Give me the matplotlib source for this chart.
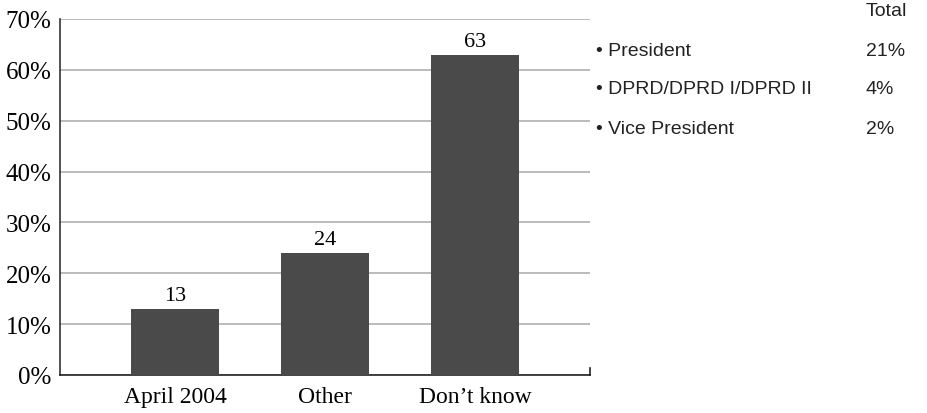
import matplotlib
matplotlib.use("Agg")
import matplotlib.pyplot as plt

categories = ["April 2004", "Other", "Don\u2019t know"]
values = [13, 24, 63]
yticks = [0, 10, 20, 30, 40, 50, 60, 70]
ytick_labels = ["0%", "10%", "20%", "30%", "40%", "50%", "60%", "70%"]
side_header = "Total"
side_items = ["President", "DPRD/DPRD I/DPRD II", "Vice President"]
side_values = ["21%", "4%", "2%"]

fig = plt.figure(figsize=(9.27, 4.14), dpi=100)
W, H = 927, 414
ax = fig.add_axes([60 / W, 1 - 376 / H, (590 - 60) / W, (376 - 20) / H])

x = list(range(len(categories)))
bars = ax.bar(x, values, width=0.59, color="#4a4a4a", zorder=3)
ax.set_xlim(-0.767, 2.767)
ax.set_ylim(0, 70)
ax.set_yticks(yticks)
ax.set_yticklabels(ytick_labels, fontfamily="Liberation Serif", fontsize=18)
ax.set_xticks(x)
ax.set_xticklabels(categories, fontfamily="Liberation Serif", fontsize=17)
ax.tick_params(axis="both", length=0, pad=6, colors="black")
ax.tick_params(axis="x", pad=8)
ax.yaxis.grid(True, color="#a8a8a8", linewidth=1.1, zorder=0)
for s in ["top", "right"]:
    ax.spines[s].set_visible(False)
ax.spines["left"].set_color("#333333")
ax.spines["bottom"].set_color("#222222")
ax.spines["left"].set_linewidth(1.2)
ax.spines["bottom"].set_linewidth(1.2)
ax.spines["left"].set_bounds(0, 70)
ax.plot([1, 1], [0, 1.4], transform=ax.get_yaxis_transform(), color="#222222",
        linewidth=1.2, clip_on=False)

for b, v in zip(bars, values):
    ax.text(b.get_x() + b.get_width() / 2, v + 0.7, str(v), ha="center", va="bottom",
            fontfamily="Liberation Serif", fontsize=16, color="black")

fig.text(866 / W, 1 - 11 / H, side_header, fontfamily="Liberation Sans", fontsize=14,
         va="center", ha="left", color="#222222")
ys = [51, 90, 130]
for yy, item, val in zip(ys, side_items, side_values):
    fig.text(596 / W, 1 - yy / H, "\u2022 " + item, fontfamily="Liberation Sans", fontsize=14,
             va="center", ha="left", color="#222222")
    fig.text(866 / W, 1 - yy / H, val, fontfamily="Liberation Sans", fontsize=14,
             va="center", ha="left", color="#222222")

fig.savefig("out.png", dpi=100)
